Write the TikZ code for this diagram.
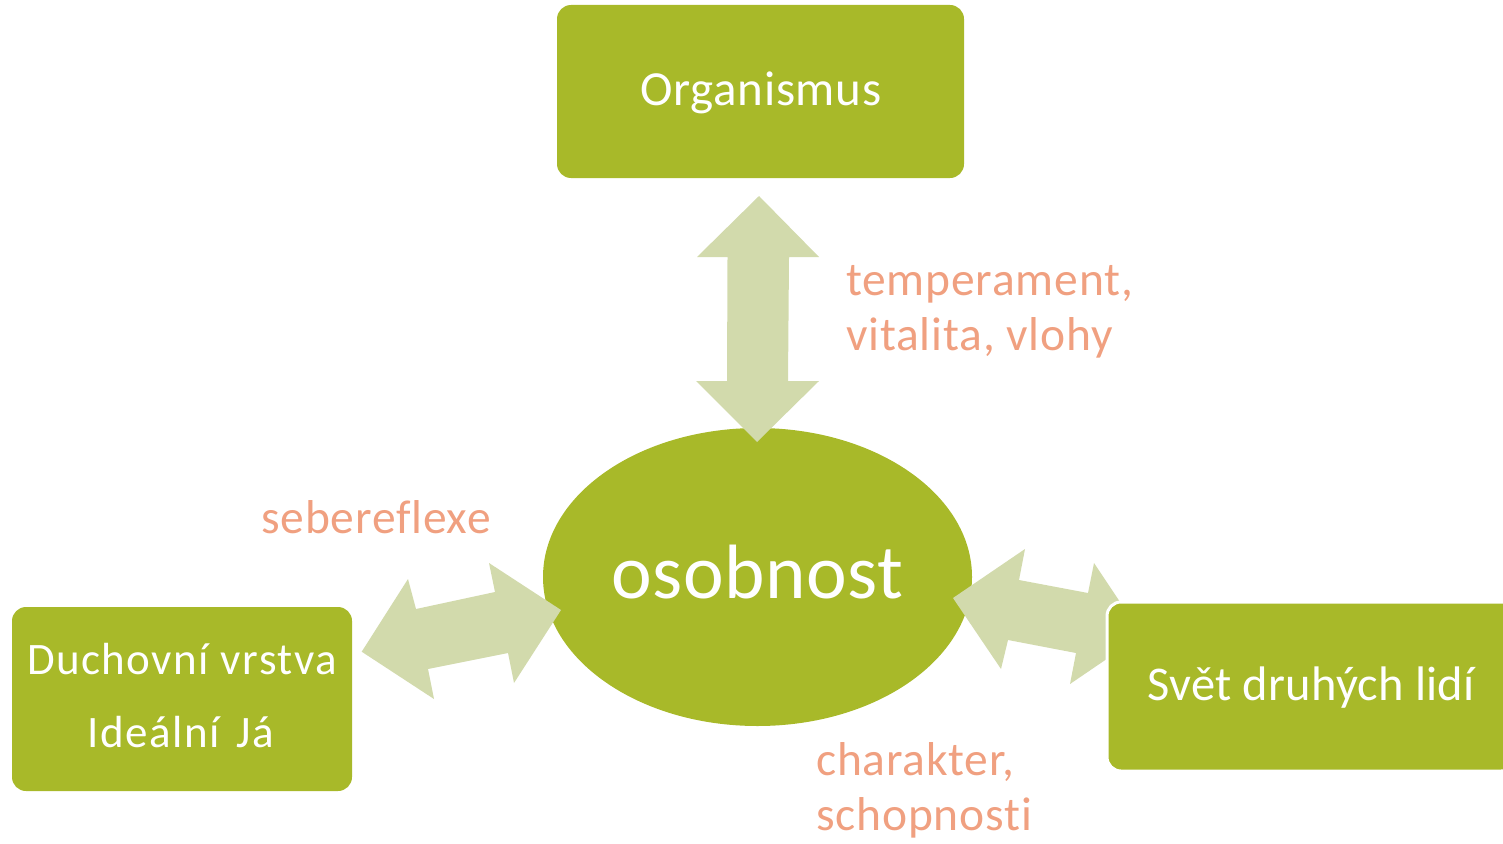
\documentclass[tikz,border=0pt]{standalone}
\usepackage{fontspec}
\setmainfont{Carlito}[Ligatures=NoCommon]
\usetikzlibrary{shapes.geometric}
\definecolor{boxgreen}{RGB}{168,185,41}
\definecolor{arrowgreen}{RGB}{210,218,172}
\definecolor{salmon}{RGB}{240,160,128}
\tikzset{
  greenbox/.style={fill=boxgreen, rounded corners=14pt, inner sep=0pt, draw=none},
  blockarrow/.style={fill=arrowgreen},
  boxtext/.style={text=white, inner sep=0pt, anchor=base},
  lbl/.style={text=salmon, inner sep=0pt, anchor=base west, font=\fontsize{47.5pt}{55pt}\selectfont\addfontfeature{LetterSpace=1.75}},
}
\begin{document}
\begin{tikzpicture}[x=1pt,y=-1pt]
\useasboundingbox (0,0) rectangle (1503,843);
\clip (0,0) rectangle (1503,843);
% central ellipse
\node[ellipse, fill=boxgreen, inner sep=0pt, minimum width=429pt, minimum height=298pt] (oso) at (757.5,577) {};
% block arrows
\fill[blockarrow] (759,196) -- (819,257) -- (789,257) -- (788,381) -- (819,381) -- (757,442) -- (696,381) -- (727,381) -- (727.5,257) -- (697,257) -- cycle;
\fill[blockarrow] (361.7,651.7) -- (408,579) -- (416,609) -- (495,592) -- (489,563) -- (561,610) -- (514,683) -- (508,653) -- (428,669) -- (434,699) -- cycle;
\fill[blockarrow] (953,598) -- (1025,549) -- (1019,580) -- (1088,593) -- (1094,563) -- (1142,635) -- (1070,684) -- (1076,653) -- (1008,640) -- (1001,669) -- cycle;
% boxes
\node[greenbox, minimum width=407pt, minimum height=173pt] (org) at (760.5,91.5) {};
\node[greenbox, minimum width=340pt, minimum height=184pt] (duch) at (182,699) {};
\node[greenbox, draw=white, line width=3pt, minimum width=408pt, minimum height=169pt] (svet) at (1311,686.5) {};
% texts
\node[boxtext, font=\fontsize{49pt}{49pt}\selectfont\addfontfeature{LetterSpace=1.4}] (orgt) at (761,105) {Organismus};
\node[boxtext, font=\fontsize{77pt}{77pt}\selectfont\addfontfeature{LetterSpace=0.6}] (osot) at (757.5,598) {osobnost};
\node[boxtext, font=\fontsize{45pt}{45pt}\selectfont\addfontfeature{LetterSpace=3.3}] (ducht1) at (182,674) {Duchovní vrstva};
\node[boxtext, font=\fontsize{45pt}{45pt}\selectfont\addfontfeature{LetterSpace=3.3}] (ducht2) at (181,747) {Ideální\ \hspace{0.12em}Já};
\node[boxtext, font=\fontsize{48.5pt}{48.5pt}\selectfont\addfontfeature{LetterSpace=0.5}] (svett) at (1311,700) {Svět druhých lidí};
% labels
\node[lbl] (l1) at (846,295) {temperament,};
\node[lbl] (l2) at (846,350) {vitalita, vlohy};
\node[lbl] (l3) at (261,533) {sebereflexe};
\node[lbl] (l4) at (816,775) {charakter,};
\node[lbl] (l5) at (816,830) {schopnosti};
\end{tikzpicture}
\end{document}
